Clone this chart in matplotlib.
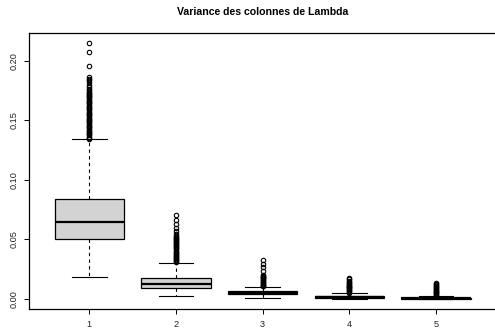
import matplotlib
matplotlib.use('Agg')
from matplotlib import pyplot as pl

pl.rcParams['font.family'] = ['Liberation Sans', 'DejaVu Sans']

# Box summaries (one entry per column of Lambda)
positions = [1, 2, 3, 4, 5]
whislo = [0.0181, 0.0022, 0.0004, 0.0000, 0.0000]
q1 = [0.0502, 0.0089, 0.0036, 0.0005, 0.0001]
med = [0.0644, 0.0125, 0.0050, 0.0012, 0.0004]
q3 = [0.0836, 0.0176, 0.0064, 0.0022, 0.0009]
whishi = [0.1343, 0.0304, 0.0100, 0.0048, 0.0021]

# Outliers (the dense stacks are estimated)
fliers1 = [0.2146, 0.2074, 0.1953, 0.1866, 0.1848, 0.1835, 0.1820, 0.1796,
           0.1776, 0.1762, 0.1751, 0.1740, 0.1731, 0.1720, 0.1712, 0.1700,
           0.1691, 0.1682, 0.1670, 0.1661, 0.1652, 0.1641, 0.1633, 0.1620,
           0.1611, 0.1602, 0.1590, 0.1582, 0.1571, 0.1560, 0.1553, 0.1541,
           0.1532, 0.1520, 0.1511, 0.1502, 0.1490, 0.1481, 0.1472, 0.1460,
           0.1451, 0.1442, 0.1430, 0.1421, 0.1410, 0.1402, 0.1391, 0.1380,
           0.1372, 0.1361, 0.1352, 0.1345]
fliers2 = [0.0705, 0.0663, 0.0627, 0.0594, 0.0565, 0.0543, 0.0530, 0.0521,
           0.0511, 0.0502, 0.0493, 0.0485, 0.0476, 0.0467, 0.0458, 0.0449,
           0.0441, 0.0432, 0.0423, 0.0414, 0.0405, 0.0397, 0.0388, 0.0379,
           0.0370, 0.0361, 0.0352, 0.0344, 0.0335, 0.0326, 0.0318, 0.0310]
fliers3 = [0.0329, 0.0295, 0.0264, 0.0231, 0.0203, 0.0195, 0.0187, 0.0179,
           0.0171, 0.0163, 0.0155, 0.0147, 0.0139, 0.0131, 0.0124, 0.0117,
           0.0110, 0.0104]
fliers4 = [0.0178, 0.0166, 0.0152, 0.0143, 0.0135, 0.0127, 0.0119, 0.0111,
           0.0103, 0.0095, 0.0087, 0.0079, 0.0071, 0.0064, 0.0057, 0.0051]
fliers5 = [0.0136, 0.0125, 0.0115, 0.0108, 0.0100, 0.0092, 0.0084, 0.0076,
           0.0068, 0.0060, 0.0053, 0.0046, 0.0039, 0.0032, 0.0026]
fliers = [fliers1, fliers2, fliers3, fliers4, fliers5]

tick_labels = ['1', '2', '3', '4', '5']
yticks = [0.00, 0.05, 0.10, 0.15, 0.20]
title = 'Variance des colonnes de Lambda'

stats = []
for i in range(len(positions)):
    stats.append({'whislo': whislo[i], 'q1': q1[i], 'med': med[i],
                  'q3': q3[i], 'whishi': whishi[i], 'fliers': fliers[i]})

W, H = 495, 329
fig = pl.figure(figsize=(W/100, H/100), dpi=100)
# axes region in pixels: left 28.6, right 496.8, top 33, bottom 309
ax = fig.add_axes([28.6/W, (H-309)/H, (496.8-28.6)/W, (309-33)/H])

ax.bxp(stats, positions=positions, widths=0.8, capwidths=0.4,
       patch_artist=True,
       boxprops=dict(facecolor='#d3d3d3', edgecolor='black', linewidth=0.9),
       medianprops=dict(color='black', linewidth=1.6),
       whiskerprops=dict(color='black', linewidth=0.8, linestyle=(0, (3, 3))),
       capprops=dict(color='black', linewidth=0.8),
       flierprops=dict(marker='o', markerfacecolor='none',
                       markeredgecolor='black', markersize=3.2,
                       markeredgewidth=0.8))

ymax = 0.2146
ax.set_xlim(0.3, 5.7)
ax.set_ylim(-0.04*ymax, 1.04*ymax)

ax.set_xticks(positions)
ax.set_xticklabels(tick_labels)
ax.set_yticks(yticks)
ax.set_yticklabels(['%.2f' % v for v in yticks], rotation=90, va='center')
ax.tick_params(axis='both', labelsize=6.6, length=3.5, width=0.7,
               colors='black', labelcolor='#222222')
ax.tick_params(axis='y', pad=4)
ax.tick_params(axis='x', pad=4.5)

for sp in ax.spines.values():
    sp.set_linewidth(0.9)
    sp.set_color('black')

xc = (28.6 + 496.8)/2/W
fig.text(xc, 1-12/H, title, ha='center', va='center',
         fontsize=7.6, fontweight='bold')

pl.savefig('out.png', dpi=100)
pl.close('all')
